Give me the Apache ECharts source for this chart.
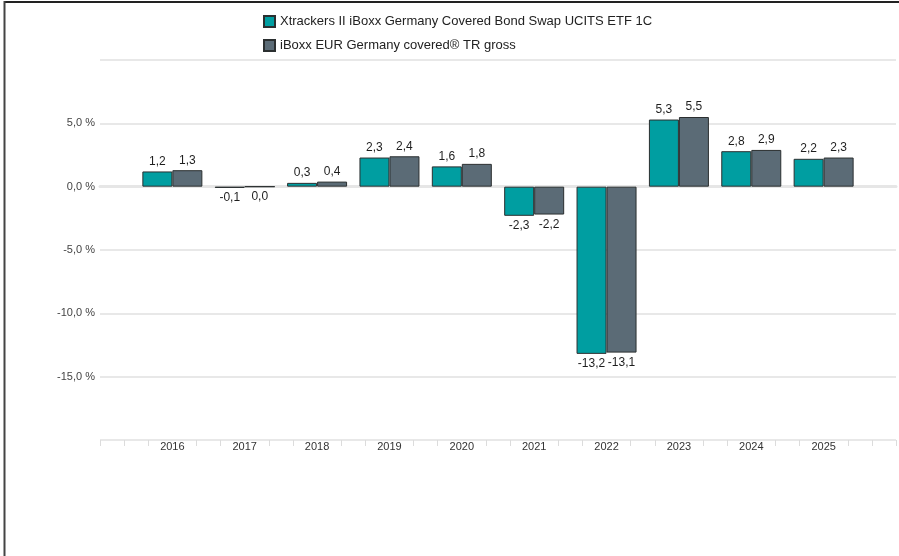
<!DOCTYPE html>
<html>
<head>
<meta charset="utf-8">
<script src="https://cdn.jsdelivr.net/npm/echarts@6/dist/echarts.min.js"></script>
<style>
html,body{margin:0;padding:0;background:#fff;}
#c{width:899px;height:556px;}
</style>
</head>
<body>
<div id="c"></div>
<script>
const years = ['2016','2017','2018','2019','2020','2021','2022','2023','2024','2025'];
const etfValues = [1.2, -0.1, 0.3, 2.3, 1.6, -2.3, -13.2, 5.3, 2.8, 2.2];
const indexValues = [1.3, 0.0, 0.4, 2.4, 1.8, -2.2, -13.1, 5.5, 2.9, 2.3];
const seriesNames = ['Xtrackers II iBoxx Germany Covered Bond Swap UCITS ETF 1C', 'iBoxx EUR Germany covered® TR gross'];
const yTicks = [-20, -15, -10, -5, 0, 5, 10];

const FONT = '"Liberation Sans", Arial, Helvetica, sans-serif';
const cats = [''].concat(years, ['']);
function fmt(v){ return v.toFixed(1).replace('.', ','); }
function toData(arr){
  const out = [null];
  arr.forEach(v => out.push({
    value: v,
    label: { position: v > 0 ? 'top' : 'bottom' }
  }));
  out.push(null);
  return out;
}
// minor ticks positions (3 per category slot)
const minorCats = [];
for (let i = 0; i < (cats.length - 1) * 3 + 1; i++) minorCats.push(String(i));

const chart = echarts.init(document.getElementById('c'), null, {renderer: 'canvas'});
const labelCfg = {
  show: true, distance: 4, color: '#1e1e1e', fontSize: 12, fontFamily: FONT,
  formatter: p => fmt(p.value)
};
chart.setOption({
  animation: false,
  textStyle: { fontFamily: FONT },
  graphic: [
    { type: 'line', shape: {x1: 4, y1: 2, x2: 899, y2: 2}, style: {stroke: '#222', lineWidth: 2}, silent: true },
    { type: 'line', shape: {x1: 4.5, y1: 1, x2: 4.5, y2: 556}, style: {stroke: '#444', lineWidth: 2}, silent: true }
  ],
  legend: {
    orient: 'vertical', left: 258, top: 10, itemGap: 11,
    itemWidth: 11, itemHeight: 11, icon: 'rect',
    textStyle: { fontSize: 13, color: '#222', fontFamily: FONT },
    data: seriesNames
  },
  grid: { left: 100, right: 3, top: 60, bottom: 116, containLabel: false },
  xAxis: [
    {
      type: 'category', data: cats, boundaryGap: false,
      axisLine: { show: true, lineStyle: { color: '#e6e6e6', width: 3 } },
      axisTick: { show: false },
      axisLabel: { color: '#333', fontSize: 11, margin: 1, fontFamily: FONT, interval: 0 },
      splitLine: { show: false }
    },
    {
      type: 'category', data: minorCats, boundaryGap: false, position: 'bottom',
      axisLine: { show: false },
      axisLabel: { show: false },
      axisTick: { show: true, length: 6, lineStyle: { color: '#dcdcdc', width: 1 },
        interval: (i) => (i % 3 !== 0) || i === 0 || i === minorCats.length - 1 },
      splitLine: { show: false }
    }
  ],
  yAxis: {
    type: 'value', min: yTicks[0], max: yTicks[yTicks.length - 1], interval: 5,
    axisLine: { show: false }, axisTick: { show: false },
    axisLabel: {
      color: '#444', fontSize: 11, margin: 5, fontFamily: FONT,
      formatter: v => (v === yTicks[0] || v === yTicks[yTicks.length - 1]) ? '' : fmt(v) + ' %'
    },
    splitLine: { lineStyle: { color: '#e8e8e8', width: 2 } }
  },
  series: [
    {
      name: seriesNames[0], type: 'bar', data: toData(etfValues),
      barWidth: 30, barGap: '0%',
      itemStyle: { color: '#009ea1', borderColor: '#2b2f30', borderWidth: 1 },
      label: labelCfg
    },
    {
      name: seriesNames[1], type: 'bar', data: toData(indexValues),
      barWidth: 30, barGap: '0%',
      itemStyle: { color: '#5b6b76', borderColor: '#2b2f30', borderWidth: 1 },
      label: labelCfg
    }
  ]
});
</script>
</body>
</html>
